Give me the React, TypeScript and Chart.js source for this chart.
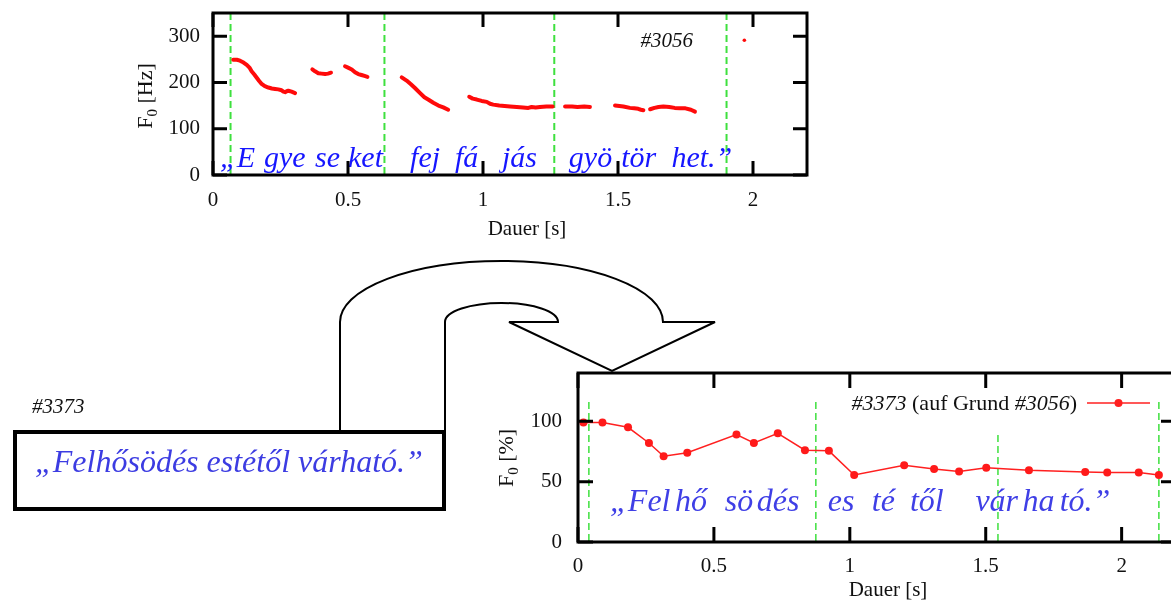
import React, { useEffect, useRef } from 'react';
import { Chart, registerables } from 'chart.js';

Chart.register(...registerables);

const SERIF = '"Liberation Serif", "Times New Roman", "DejaVu Serif", serif';

// ---------- upper chart: #3056, F0 in Hz (null = unvoiced gap) ----------
const topTime = [
  0.075, 0.088, 0.1, 0.113, 0.125, 0.135, 0.143, 0.153, 0.162, 0.171, 0.18, 0.192, 0.205, 0.218, 0.23, 0.242, 0.254, 0.261, 0.267, 0.273, 0.279, 0.291, 0.304,
  0.335,
  0.368, 0.378, 0.39, 0.402, 0.415, 0.426, 0.437,
  0.46,
  0.489, 0.5, 0.514, 0.526, 0.538, 0.55, 0.561, 0.572,
  0.63,
  0.699, 0.717, 0.733, 0.748, 0.767, 0.783, 0.8, 0.816, 0.835, 0.853, 0.871,
  0.91,
  0.949, 0.962, 0.977, 0.995, 1.014, 1.026, 1.038, 1.06, 1.08, 1.1, 1.125, 1.148, 1.168, 1.18, 1.195, 1.211, 1.235, 1.258,
  1.28,
  1.304, 1.33, 1.35, 1.375, 1.396,
  1.44,
  1.489, 1.505, 1.52, 1.544, 1.56, 1.575, 1.585, 1.594,
  1.605,
  1.619, 1.635, 1.65, 1.668, 1.69, 1.71, 1.73, 1.75, 1.77, 1.785,
];
const topHz = [
  249, 249, 247, 243, 238, 232, 224, 217, 210, 203, 197, 192, 189, 187, 186, 185, 183, 180, 179, 181, 182, 180, 177,
  null,
  228, 224, 220, 219, 218, 219, 221,
  null,
  235, 232, 228, 222, 218, 216, 214, 212,
  null,
  211, 204, 196, 188, 177, 168, 162, 156, 150, 146, 141,
  null,
  169, 165, 163, 160, 158, 154, 152, 150, 149, 148, 147, 146, 145, 147, 146, 147, 148, 148,
  null,
  148, 148, 147, 148, 147,
  null,
  150, 149, 148, 145, 144, 143, 141, 140,
  null,
  142, 145, 147, 148, 147, 145, 144, 144, 141, 137,
];
const topIsolatedTime = [1.968];
const topIsolatedHz = [291];
const topBoundaries = [0.065, 0.635, 1.264, 1.902];
const topXTicks = [0, 0.5, 1, 1.5, 2];
const topYTicks = [0, 100, 200, 300];
const topSyllables = ['„E', 'gye', 'se', 'ket', 'fej', 'fá', 'jás', 'gyö', 'tör', 'het.”'];
const topSyllableAt = [0.026, 0.189, 0.378, 0.5, 0.73, 0.896, 1.07, 1.318, 1.512, 1.698];

// ---------- lower chart: #3373 (auf Grund #3056), F0 in % ----------
const botTime = [0.02, 0.09, 0.184, 0.261, 0.315, 0.402, 0.583, 0.647, 0.735, 0.835, 0.923, 1.016, 1.2, 1.31, 1.402, 1.502, 1.659, 1.866, 1.947, 2.063, 2.137];
const botPercent = [99, 99, 95, 82, 71, 74, 89, 82, 90, 76, 75.5, 55.5, 63.5, 60.5, 58.5, 61.5, 59.5, 58, 57.5, 57.5, 55.5];
const botBoundaries = [0.04, 0.875, 1.545, 2.137];
const botXTicks = [0, 0.5, 1, 1.5, 2];
const botYTicks = [0, 50, 100];
const botSyllables = ['„Fel', 'hő', 'sö', 'dés', 'es', 'té', 'től', 'vár', 'ha', 'tó.”'];
const botSyllableAt = [0.118, 0.357, 0.54, 0.658, 0.919, 1.081, 1.221, 1.462, 1.635, 1.772];

const boxText = '„Felhősödés estétől várható.”';
const boxLabel = '#3373';

const gpPlugin = {
  id: 'gp',
  beforeDatasetsDraw(chart: any, _args: any, o: any) {
    const { ctx, chartArea: a, scales } = chart;
    const x = scales.x, y = scales.y;
    ctx.save();
    ctx.strokeStyle = o.dashColor;
    ctx.lineWidth = o.dashWidth;
    ctx.setLineDash(o.dash);
    const yTop = o.boundTop == null ? a.top : y.getPixelForValue(o.boundTop);
    o.bounds.forEach((t: number) => {
      const px = x.getPixelForValue(t);
      ctx.beginPath();
      ctx.moveTo(px, yTop);
      ctx.lineTo(px, a.bottom);
      ctx.stroke();
    });
    ctx.restore();

    ctx.save();
    ctx.font = `italic ${o.sylSize}px ${SERIF}`;
    ctx.fillStyle = o.sylColor;
    ctx.textBaseline = 'alphabetic';
    ctx.textAlign = 'left';
    o.syllables.forEach((s: string, i: number) => {
      ctx.fillText(s, x.getPixelForValue(o.sylAt[i]), y.getPixelForValue(o.sylY));
    });
    ctx.restore();
  },
  afterDatasetsDraw(chart: any, _args: any, o: any) {
    const { ctx, chartArea: a, scales } = chart;
    const x = scales.x, y = scales.y;
    ctx.save();
    ctx.setLineDash([]);
    if (o.keyBox) {
      ctx.fillStyle = '#fff';
      ctx.fillRect(o.keyBox[0], o.keyBox[1], o.keyBox[2], o.keyBox[3]);
    }
    // key text (right aligned)
    const parts = o.keyParts as { t: string; i: boolean }[];
    const fonts = parts.map((p) => `${p.i ? 'italic ' : ''}${o.keySize}px ${SERIF}`);
    const widths = parts.map((p, i) => { ctx.font = fonts[i]; return ctx.measureText(p.t).width; });
    let kx = o.keyRight - widths.reduce((s, w) => s + w, 0);
    ctx.fillStyle = '#111';
    ctx.textBaseline = 'alphabetic';
    ctx.textAlign = 'left';
    parts.forEach((p, i) => { ctx.font = fonts[i]; ctx.fillText(p.t, kx, o.keyBaseline); kx += widths[i]; });
    if (o.keySample) {
      const s = o.keySample;
      ctx.strokeStyle = s.color;
      ctx.lineWidth = s.width;
      ctx.beginPath();
      ctx.moveTo(s.x1, s.y);
      ctx.lineTo(s.x2, s.y);
      ctx.stroke();
      ctx.fillStyle = s.color;
      ctx.beginPath();
      ctx.arc((s.x1 + s.x2) / 2, s.y, s.r, 0, Math.PI * 2);
      ctx.fill();
    }
    // frame
    ctx.strokeStyle = '#000';
    ctx.lineWidth = o.frameWidth;
    ctx.strokeRect(a.left, a.top, a.right - a.left, a.bottom - a.top);
    // inward ticks on all four sides
    ctx.beginPath();
    o.xTicks.forEach((v: number) => {
      const px = x.getPixelForValue(v);
      ctx.moveTo(px, a.bottom); ctx.lineTo(px, a.bottom - o.tickLen);
      ctx.moveTo(px, a.top); ctx.lineTo(px, a.top + o.tickLen);
    });
    o.yTicks.forEach((v: number) => {
      const py = y.getPixelForValue(v);
      ctx.moveTo(a.left, py); ctx.lineTo(a.left + o.tickLen, py);
      ctx.moveTo(a.right, py); ctx.lineTo(a.right - o.tickLen, py);
    });
    ctx.stroke();
    // x title
    ctx.fillStyle = '#111';
    ctx.font = `${o.titleSize}px ${SERIF}`;
    ctx.textAlign = 'center';
    ctx.textBaseline = 'middle';
    ctx.fillText(o.xTitle, o.xTitleX, o.xTitleY);
    // y title with subscript, rotated
    ctx.translate(o.yTitleX, o.yTitleY);
    ctx.rotate(-Math.PI / 2);
    const f1 = `${o.yTitleSize}px ${SERIF}`;
    const f2 = `${o.yTitleSubSize}px ${SERIF}`;
    ctx.font = f1;
    const w0 = ctx.measureText(o.yTitle[0]).width;
    const w2 = ctx.measureText(o.yTitle[2]).width;
    ctx.font = f2;
    const w1 = ctx.measureText(o.yTitle[1]).width;
    let tx = -(w0 + w1 + w2) / 2;
    ctx.textAlign = 'left';
    ctx.textBaseline = 'alphabetic';
    ctx.font = f1; ctx.fillText(o.yTitle[0], tx, 0); tx += w0;
    ctx.font = f2; ctx.fillText(o.yTitle[1], tx, o.yTitleSubShift); tx += w1;
    ctx.font = f1; ctx.fillText(o.yTitle[2], tx, 0);
    ctx.restore();
  },
};

function clearPad(s: any) {
  s.paddingTop = 0;
  s.paddingBottom = 0;
  s.paddingLeft = 0;
  s.paddingRight = 0;
}

function makeScales(xTicks: number[], yTicks: number[], xMax: number, yMax: number, yWidth: number, xHeight: number, yPad: number, xPad: number) {
  const tickFont = { family: SERIF, size: 21 };
  return {
    x: {
      type: 'linear',
      min: 0,
      max: xMax,
      grid: { display: false, drawTicks: false },
      border: { display: false },
      afterBuildTicks: (s: any) => { s.ticks = xTicks.map((v) => ({ value: v })); },
      afterFit: (s: any) => { s.height = xHeight; clearPad(s); },
      ticks: { font: tickFont, color: '#111', padding: xPad, maxRotation: 0, autoSkip: false, callback: (v: any) => String(v) },
    },
    y: {
      type: 'linear',
      min: 0,
      max: yMax,
      grid: { display: false, drawTicks: false },
      border: { display: false },
      afterBuildTicks: (s: any) => { s.ticks = yTicks.map((v) => ({ value: v })); },
      afterFit: (s: any) => { s.width = yWidth; clearPad(s); },
      ticks: { font: tickFont, color: '#111', padding: yPad, callback: (v: any) => String(v) },
    },
  };
}

function TopChart() {
  const ref = useRef<HTMLCanvasElement>(null);
  useEffect(() => {
    const data = topTime.map((t, i) => ({ x: t, y: topHz[i] }));
    const iso = topIsolatedTime.map((t, i) => ({ x: t, y: topIsolatedHz[i] }));
    const chart = new Chart(ref.current as HTMLCanvasElement, {
      type: 'line',
      data: {
        datasets: [
          {
            data: data as any,
            borderColor: '#ff0a0a',
            borderWidth: 4,
            pointRadius: 0,
            spanGaps: false,
            tension: 0,
            borderCapStyle: 'round',
            borderJoinStyle: 'round',
          },
          {
            data: iso as any,
            showLine: false,
            pointRadius: 1.8,
            pointBorderWidth: 0,
            pointBackgroundColor: '#ff0a0a',
          },
        ],
      },
      options: {
        responsive: false,
        animation: false,
        events: [],
        layout: { padding: { top: 13, right: 13, left: 0, bottom: 0 } },
        scales: makeScales(topXTicks, topYTicks, 2.2, 350, 93, 75, 13, 13) as any,
        plugins: {
          legend: { display: false },
          tooltip: { enabled: false },
          gp: {
            bounds: topBoundaries,
            boundTop: null,
            dashColor: '#3ee03e',
            dashWidth: 2,
            dash: [7, 4],
            syllables: topSyllables,
            sylAt: topSyllableAt,
            sylY: 18,
            sylSize: 30,
            sylColor: '#1616ff',
            keyBox: null,
            keyParts: [{ t: '#3056', i: true }],
            keySize: 21,
            keyRight: 573,
            keyBaseline: 47,
            keySample: null,
            frameWidth: 3,
            tickLen: 14,
            xTicks: topXTicks,
            yTicks: topYTicks,
            xTitle: 'Dauer [s]',
            xTitleX: 407,
            xTitleY: 229,
            titleSize: 21,
            yTitle: ['F', '0', ' [Hz]'],
            yTitleX: 32,
            yTitleY: 96,
            yTitleSize: 22,
            yTitleSubSize: 15,
            yTitleSubShift: 5,
          },
        } as any,
      },
      plugins: [gpPlugin as any],
    });
    return () => chart.destroy();
  }, []);
  return <canvas ref={ref} width={700} height={250} style={{ position: 'absolute', left: 120, top: 0, display: 'block' }} />;
}

function BottomChart() {
  const ref = useRef<HTMLCanvasElement>(null);
  useEffect(() => {
    const data = botTime.map((t, i) => ({ x: t, y: botPercent[i] }));
    const chart = new Chart(ref.current as HTMLCanvasElement, {
      type: 'line',
      data: {
        datasets: [
          {
            data: data as any,
            borderColor: '#ff2020',
            borderWidth: 1.5,
            pointRadius: 4,
            pointBorderWidth: 0,
            pointBackgroundColor: '#ff1a1a',
            tension: 0,
          },
        ],
      },
      options: {
        responsive: false,
        animation: false,
        events: [],
        layout: { padding: { top: 18, right: 4, left: 0, bottom: 0 } },
        scales: makeScales(botXTicks, botYTicks, 2.2, 140, 98, 62, 16, 12) as any,
        plugins: {
          legend: { display: false },
          tooltip: { enabled: false },
          gp: {
            bounds: botBoundaries,
            boundTop: 116,
            dashColor: '#3ee03e',
            dashWidth: 1.5,
            dash: [7, 4],
            syllables: botSyllables,
            sylAt: botSyllableAt,
            sylY: 26,
            sylSize: 32,
            sylColor: '#3f3fe6',
            keyBox: [366, 30, 309, 48],
            keyParts: [
              { t: '#3373', i: true },
              { t: ' (auf Grund ', i: false },
              { t: '#3056', i: true },
              { t: ')', i: false },
            ],
            keySize: 22,
            keyRight: 597,
            keyBaseline: 55,
            keySample: { x1: 607, x2: 670, y: 48, color: '#ff2020', width: 1.5, r: 4 },
            frameWidth: 3,
            tickLen: 15,
            xTicks: botXTicks,
            yTicks: botYTicks,
            xTitle: 'Dauer [s]',
            xTitleX: 408,
            xTitleY: 235,
            titleSize: 21,
            yTitle: ['F', '0', ' [%]'],
            yTitleX: 33,
            yTitleY: 103,
            yTitleSize: 22,
            yTitleSubSize: 15,
            yTitleSubShift: 5,
          },
        } as any,
      },
      plugins: [gpPlugin as any],
    });
    return () => chart.destroy();
  }, []);
  return <canvas ref={ref} width={700} height={249} style={{ position: 'absolute', left: 480, top: 355, display: 'block' }} />;
}

function Overlay() {
  return (
    <svg width={1171} height={604} style={{ position: 'absolute', left: 0, top: 0, pointerEvents: 'none' }}>
      <path
        d="M 340 430 L 340 322 A 161.5 61 0 0 1 663 322 L 715 322 L 612 371 L 509 322 L 558 322 A 56.5 19 0 0 0 445 322 L 445 430"
        fill="none"
        stroke="#000"
        strokeWidth={2}
        strokeLinejoin="miter"
      />
      <rect x={15} y={432} width={429} height={77} fill="#fff" stroke="#000" strokeWidth={4} />
      <text x={35} y={472} fontFamily={SERIF} fontStyle="italic" fontSize={32} fill="#3c3ce2">
        {boxText}
      </text>
      <text x={32} y={413} fontFamily={SERIF} fontStyle="italic" fontSize={21} fill="#111">
        {boxLabel}
      </text>
    </svg>
  );
}

export default function App() {
  return (
    <div style={{ position: 'absolute', left: 0, top: 0, width: 1171, height: 604, overflow: 'hidden', background: '#fff' }}>
      <TopChart />
      <BottomChart />
      <Overlay />
    </div>
  );
}
